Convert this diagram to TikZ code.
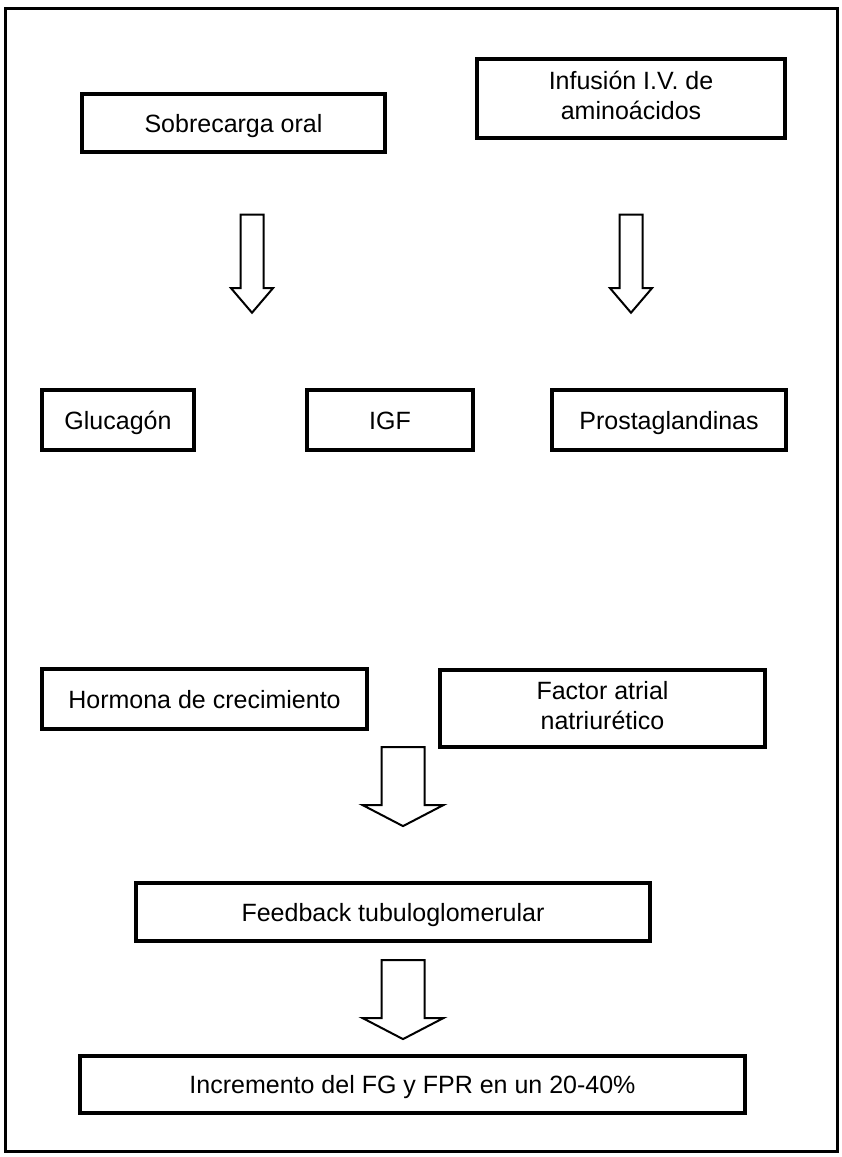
\documentclass[tikz,border=0pt]{standalone}
\usepackage{fontspec}
\setmainfont{Liberation Sans}
\usetikzlibrary{shapes.arrows}
\newcommand{\boxstrut}{\rule[-6pt]{0pt}{30pt}}
\begin{document}
\begin{tikzpicture}[x=1pt,y=-1pt,
  box/.style={draw,line width=4pt,inner sep=0pt,align=center,
    font=\fontsize{25}{30}\selectfont,execute at begin node=\boxstrut},
  arr/.style={draw,single arrow,rotate=-90,line width=2pt,inner xsep=0pt},
  thin/.style={arr,inner ysep=10.5pt,single arrow head extend=9.5pt,
    single arrow tip angle=81,minimum height=98pt},
  wide/.style={arr,inner ysep=20.5pt,single arrow head extend=19pt,
    single arrow tip angle=125,minimum height=79pt}]
  \useasboundingbox (0,0) rectangle (841,1157);
  \draw[line width=3pt] (5,8) rectangle (837,1151);
  % top row
  \node[box,minimum width=303pt,minimum height=58pt] (sobrecarga) at (233.5,123) {Sobrecarga oral};
  \node[box,minimum width=308pt,minimum height=79pt] (infusion) at (631,98.5) {Infusión I.V. de\\aminoácidos\boxstrut};
  \node[thin] (a1) at (252,257) {};
  \node[thin] (a2) at (631,257) {};
  % middle row
  \node[box,minimum width=152pt,minimum height=60pt] (glucagon) at (118,420) {Glucagón};
  \node[box,minimum width=166pt,minimum height=60pt] (igf) at (390,420) {IGF};
  \node[box,minimum width=234pt,minimum height=60pt] (prosta) at (669,420) {Prostaglandinas};
  \node[box,minimum width=325pt,minimum height=60pt] (hormona) at (204.5,699) {Hormona de crecimiento};
  \node[box,minimum width=325pt,minimum height=77pt] (factor) at (602.5,708) {Factor atrial\\natriurético\boxstrut};
  % bottom
  \node[wide] (a3) at (403,781) {};
  \node[box,minimum width=514pt,minimum height=58pt] (feedback) at (393,912) {Feedback tubuloglomerular};
  \node[wide] (a4) at (403,994) {};
  \node[box,minimum width=665pt,minimum height=57pt] (incremento) at (412.5,1084.5) {Incremento del FG y FPR en un 20-40\%};
\end{tikzpicture}
\end{document}
